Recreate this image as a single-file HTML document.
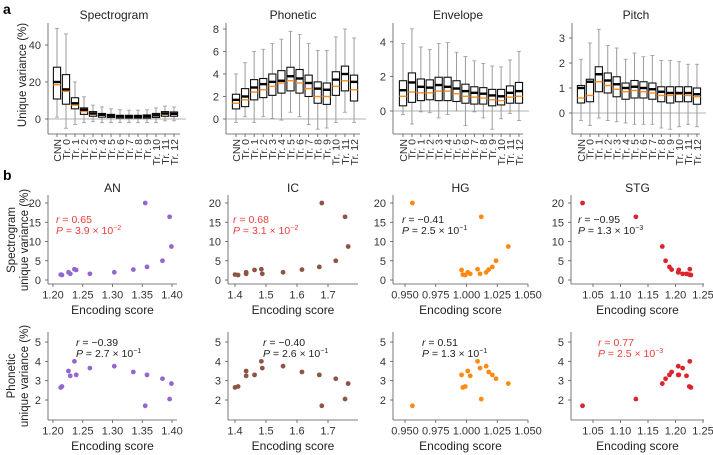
<!DOCTYPE html>
<html><head><meta charset="utf-8"><style>
body{margin:0;background:#fff}
svg{display:block;font-family:"Liberation Sans",sans-serif}
</style></head><body>
<svg id="fig" width="713" height="455" viewBox="0 0 713 455" xmlns="http://www.w3.org/2000/svg">
<text x="3" y="14" font-size="14" font-weight="bold">a</text>
<text x="3" y="180" font-size="14" font-weight="bold">b</text>
<text transform="translate(26,75) rotate(-90)" font-size="11.5" text-anchor="middle" fill="#222">Unique variance (%)</text>
<text transform="translate(15,240) rotate(-90)" font-size="11.5" text-anchor="middle" fill="#222">Spectrogram</text>
<text transform="translate(28,240) rotate(-90)" font-size="11.5" text-anchor="middle" fill="#222">unique variance (%)</text>
<text transform="translate(15,376) rotate(-90)" font-size="11.5" text-anchor="middle" fill="#222">Phonetic</text>
<text transform="translate(28,376) rotate(-90)" font-size="11.5" text-anchor="middle" fill="#222">unique variance (%)</text>
</svg>
<script>
// ---- Box plot data (a) ----
const layers = ["CNN","Tr. 0","Tr. 1","Tr. 2","Tr. 3","Tr. 4","Tr. 5","Tr. 6","Tr. 7","Tr. 8","Tr. 9","Tr. 10","Tr. 11","Tr. 12"];
const specQ3 = [28,24,11.5,6,4,3,2.5,2,2,2,2.2,3,4,3.8];
const specQ1 = [10.8,8,5.5,2.5,1.5,1,0.8,0.5,0.5,0.5,0.5,0.8,1.5,1.5];
const specMed = [20,16,8.5,5,3,2.3,1.8,1.5,1.4,1.4,1.5,2,3,2.8];
const specMean = [18.5,15,7.5,4,2.5,2,1.5,1.3,1.3,1.3,1.3,1.8,2.5,2.6];
const specHi = [49,46,20,12,7.5,6.5,5.5,5,4.8,4.8,5,6,7,6.5];
const specLo = [1,-5,-3,-2,-1.5,-2,-2,-2,-2,-2,-2,-2,-1,-1];
const phonQ3 = [2.2,2.7,3.5,3.6,4.0,4.3,4.6,4.4,3.9,3.3,3.2,4.2,4.7,3.9];
const phonQ1 = [0.9,1.1,1.7,1.9,2.1,2.3,2.5,2.3,2.0,1.4,1.3,2.1,2.5,1.6];
const phonMed = [1.7,2.0,2.8,3.1,3.3,3.4,3.8,3.6,3.2,2.7,2.6,3.5,4.0,3.3];
const phonMean = [1.4,1.7,2.4,2.6,2.9,3.2,3.4,3.2,2.7,2.0,2.0,2.9,3.4,2.6];
const phonHi = [4,5,6,6.2,6.7,7.1,7.8,7.5,6.7,6.1,6.1,7.3,8.0,7.2];
const phonLo = [-0.3,0.2,-0.3,0.2,0.05,-0.1,0.6,0.2,-0.5,-0.9,-0.8,-0.3,0.6,-0.3];
const envQ3 = [1.75,2.2,1.85,1.8,1.95,1.95,1.75,1.55,1.4,1.35,1.25,1.25,1.45,1.65];
const envQ1 = [0.3,0.5,0.6,0.65,0.6,0.6,0.55,0.45,0.4,0.4,0.3,0.35,0.45,0.45];
const envMed = [1.2,1.65,1.4,1.35,1.5,1.4,1.3,1.15,1.05,1.0,0.9,0.85,1.05,1.15];
const envMean = [0.85,1.1,1.05,1.05,1.15,1.15,1.0,0.85,0.8,0.75,0.65,0.6,0.8,0.85];
const envHi = [3.9,4.75,3.7,3.55,3.9,3.95,3.4,3.15,2.9,2.75,2.6,2.55,2.95,3.45];
const envLo = [-0.2,-0.75,-0.05,-0.1,-0.4,-0.2,0,-0.85,-0.05,-0.4,-1.05,-0.45,-0.15,-0.55];
const pitQ3 = [1.1,1.35,1.85,1.6,1.45,1.2,1.3,1.25,1.2,1.05,1.05,1.05,1.05,1.0];
const pitQ1 = [0.4,0.45,0.85,0.8,0.65,0.55,0.6,0.6,0.55,0.45,0.4,0.45,0.45,0.35];
const pitMed = [1.0,1.25,1.55,1.3,1.15,1.0,1.05,1.0,0.95,0.85,0.8,0.8,0.8,0.75];
const pitMean = [0.6,0.7,1.25,1.1,0.95,0.85,0.9,0.85,0.8,0.7,0.7,0.75,0.7,0.65];
const pitHi = [2.15,2.8,3.35,2.7,2.6,2.15,2.4,2.25,2.3,2.1,2.1,2.05,1.95,1.95];
const pitLo = [-0.3,-0.5,-0.2,-0.3,-0.35,-0.4,-0.45,-0.45,-0.45,-0.6,-0.65,-0.55,-0.45,-0.55];
const specTicks = [0,20,40];
const phonTicks = [0,2,4,6,8];
const envTicks = [0,2,4];
const pitTicks = [0,1,2,3];

// ---- Scatter data (b) ----
const anX = [1.213,1.215,1.226,1.229,1.236,1.239,1.262,1.303,1.335,1.358,1.355,1.384,1.396,1.399];
const icX = [1.40,1.41,1.436,1.436,1.485,1.463,1.488,1.555,1.616,1.672,1.68,1.725,1.755,1.765];
const hgX = [0.997,0.999,1.001,1.003,1.009,0.996,1.011,1.016,1.018,1.021,0.956,1.024,1.012,1.034];
const stgX = [1.225,1.228,1.205,1.213,1.226,1.206,1.22,1.205,1.193,1.189,1.031,1.182,1.128,1.176];
const specUV = [1.4,1.3,2.0,1.6,2.8,2.6,1.6,2.0,2.7,3.4,20,5.0,16.4,8.7];
const phonUV = [2.65,2.7,3.5,3.25,4.0,3.3,3.65,3.75,3.45,3.3,1.7,3.1,2.05,2.85];
const stgPhonUV = [2.7,2.65,3.75,3.65,4.0,3.3,3.25,3.3,3.45,3.3,1.7,3.1,2.05,2.85];
const anTicks = [1.20,1.25,1.30,1.35,1.40];
const icTicks = [1.4,1.5,1.6,1.7];
const hgTicks = [0.950,0.975,1.000,1.025,1.050];
const stgTicks = [1.05,1.10,1.15,1.20,1.25];
const specYTicks = [0,5,10,15,20];
const phonYTicks = [2,3,4,5];

const NS = "http://www.w3.org/2000/svg";
const svg = document.getElementById("fig");
function mk(tag, attrs, parent){const e=document.createElementNS(NS,tag);for(const k in attrs)e.setAttribute(k,attrs[k]);(parent||svg).appendChild(e);return e;}

function boxPanel(cfg){
  const g = mk("g",{});
  
  
  const y = v => cfg.y0 - v*cfg.ppu;
  const x = i => cfg.x0 + i*cfg.step;
  const t = mk("text",{x:(cfg.axX+cfg.axR)/2,y:19,"font-size":12,"text-anchor":"middle",fill:"#222"},g);
  t.textContent = cfg.title;
  
  
  mk("line",{x1:cfg.axX,y1:23,x2:cfg.axX,y2:134,stroke:"#555","stroke-width":0.8},g);
  mk("line",{x1:cfg.axX,y1:134,x2:cfg.axR,y2:134,stroke:"#555","stroke-width":0.8},g);
  mk("line",{x1:cfg.axX,y1:y(0),x2:cfg.axR+6,y2:y(0),stroke:"#999","stroke-width":0.8},g);
  cfg.ticks.forEach(v=>{
    mk("line",{x1:cfg.axX-3,y1:y(v),x2:cfg.axX,y2:y(v),stroke:"#555","stroke-width":0.8},g);
    const tt = mk("text",{x:cfg.axX-7,y:y(v)+4,"font-size":11,"text-anchor":"end",fill:"#333"},g);
    tt.textContent = v;
    
    
  });
  layers.forEach((L,i)=>{
    const cx = x(i), w = 3.6;
    mk("line",{x1:cx,y1:y(cfg.hi[i]),x2:cx,y2:y(cfg.lo[i]),stroke:"#9a9a9a","stroke-width":1},g);
    mk("line",{x1:cx-2,y1:y(cfg.hi[i]),x2:cx+2,y2:y(cfg.hi[i]),stroke:"#9a9a9a","stroke-width":0.8},g);
    mk("line",{x1:cx-2,y1:y(cfg.lo[i]),x2:cx+2,y2:y(cfg.lo[i]),stroke:"#9a9a9a","stroke-width":0.8},g);
    const b = mk("rect",{x:cx-w,y:y(cfg.q3[i]),width:2*w,height:Math.max(0.5,y(cfg.q1[i])-y(cfg.q3[i])),fill:"#fff",stroke:"#111","stroke-width":1.1},g);
    
    
    mk("line",{x1:cx-w,y1:y(cfg.mean[i]),x2:cx+w,y2:y(cfg.mean[i]),stroke:"#ff8c1a","stroke-width":1.4},g);
    mk("line",{x1:cx-w,y1:y(cfg.med[i]),x2:cx+w,y2:y(cfg.med[i]),stroke:"#000","stroke-width":2.4},g);
    mk("line",{x1:cx,y1:134,x2:cx,y2:137,stroke:"#555","stroke-width":0.8},g);
    const lt = mk("text",{transform:`translate(${cx+3.8},139) rotate(-90)`,"font-size":10.5,"text-anchor":"end",fill:"#333"},g);
    lt.textContent = L;
    
    
  });
}
boxPanel({name:"spectrogram",title:"Spectrogram",axX:48,axR:180,x0:57,step:9,y0:119,ppu:1.85,ticks:specTicks,q3:specQ3,q1:specQ1,med:specMed,mean:specMean,hi:specHi,lo:specLo});
boxPanel({name:"phonetic",title:"Phonetic",axX:226,axR:360,x0:236,step:9.08,y0:119,ppu:11.25,ticks:phonTicks,q3:phonQ3,q1:phonQ1,med:phonMed,mean:phonMean,hi:phonHi,lo:phonLo});
boxPanel({name:"envelope",title:"Envelope",axX:393,axR:523,x0:403,step:8.92,y0:111,ppu:17.3,ticks:envTicks,q3:envQ3,q1:envQ1,med:envMed,mean:envMean,hi:envHi,lo:envLo});
boxPanel({name:"pitch",title:"Pitch",axX:572,axR:700,x0:581,step:8.92,y0:113,ppu:25,ticks:pitTicks,q3:pitQ3,q1:pitQ1,med:pitMed,mean:pitMean,hi:pitHi,lo:pitLo});

function scatter(cfg){
  const g = mk("g",{});
  
  
  const x = v => cfg.xa + (v-cfg.xv0)*(cfg.xb-cfg.xa)/(cfg.xv1-cfg.xv0);
  const y = v => cfg.y0 - (v-cfg.yv0)*cfg.ppu;
  if(cfg.title){
    const t = mk("text",{x:(cfg.axX+cfg.axR)/2,y:cfg.top-3,"font-size":12,"text-anchor":"middle",fill:"#222"},g);
    t.textContent = cfg.title;
    
    
  }
  mk("line",{x1:cfg.axX,y1:cfg.top,x2:cfg.axX,y2:cfg.bot,stroke:"#555","stroke-width":0.8},g);
  mk("line",{x1:cfg.axX,y1:cfg.bot,x2:cfg.axR,y2:cfg.bot,stroke:"#555","stroke-width":0.8},g);
  cfg.yt.forEach(v=>{
    mk("line",{x1:cfg.axX-3,y1:y(v),x2:cfg.axX,y2:y(v),stroke:"#555","stroke-width":0.8},g);
    const tt = mk("text",{x:cfg.axX-7,y:y(v)+4,"font-size":11,"text-anchor":"end",fill:"#333"},g);
    tt.textContent = v;
    
    
  });
  cfg.xt.forEach(v=>{
    mk("line",{x1:x(v),y1:cfg.bot,x2:x(v),y2:cfg.bot+3,stroke:"#555","stroke-width":0.8},g);
    const tt = mk("text",{x:x(v),y:cfg.bot+14.5,"font-size":11,"text-anchor":"middle",fill:"#333"},g);
    tt.textContent = v.toFixed(cfg.dec);
    
    
  });
  const xl = mk("text",{x:(cfg.axX+cfg.axR)/2,y:cfg.bot+30,"font-size":12,"text-anchor":"middle",fill:"#222"},g);
  xl.textContent = "Encoding score";
  
  
  cfg.xs.forEach((xv,i)=>{
    const c = mk("circle",{cx:x(xv),cy:y(cfg.ys[i]),r:2.4,fill:cfg.color},g);
    
    
  });
  const col = cfg.sig ? "#f03c3c" : "#222";
  const a1 = mk("text",{x:cfg.ax,y:cfg.ay,"font-size":10.5,fill:col},g);
  a1.innerHTML = `<tspan font-style="italic">r</tspan> = ${cfg.r}`;
  
  
  const a2 = mk("text",{x:cfg.ax,y:cfg.ay+11,"font-size":10.5,fill:col},g);
  a2.innerHTML = `<tspan font-style="italic">P</tspan> = ${cfg.p} × 10<tspan dy="-4" font-size="7">${cfg.e}</tspan>`;
  
  
}
const top1={top:195,bot:284,y0:280,yv0:0,ppu:3.85,yt:specYTicks,ay:223};
const bot1={top:332,bot:420,y0:400,yv0:2,ppu:19.33,yt:phonYTicks,ay:346};
scatter({...top1,name:"an-spectrogram",title:"AN",axX:48,axR:177,xa:53,xb:172,xv0:1.20,xv1:1.40,xt:anTicks,dec:2,xs:anX,ys:specUV,color:"#9467d0",ax:56,r:"0.65",p:"3.9",e:"−2",sig:true});
scatter({...top1,name:"ic-spectrogram",title:"IC",axX:228,axR:358,xa:235,xb:328,xv0:1.4,xv1:1.7,xt:icTicks,dec:1,xs:icX,ys:specUV,color:"#8c5544",ax:233,r:"0.68",p:"3.1",e:"−2",sig:true});
scatter({...top1,name:"hg-spectrogram",title:"HG",axX:393,axR:528,xa:405,xb:528,xv0:0.95,xv1:1.05,xt:hgTicks,dec:3,xs:hgX,ys:specUV,color:"#ff8a12",ax:402,r:"−0.41",p:"2.5",e:"−1",sig:false});
scatter({...top1,name:"stg-spectrogram",title:"STG",axX:571,axR:704,xa:593,xb:703,xv0:1.05,xv1:1.25,xt:stgTicks,dec:2,xs:stgX,ys:specUV,color:"#d9252b",ax:578,r:"−0.95",p:"1.3",e:"−3",sig:false});
scatter({...bot1,name:"an-phonetic",axX:48,axR:177,xa:53,xb:172,xv0:1.20,xv1:1.40,xt:anTicks,dec:2,xs:anX,ys:phonUV,color:"#9467d0",ax:76,r:"−0.39",p:"2.7",e:"−1",sig:false});
scatter({...bot1,name:"ic-phonetic",axX:228,axR:358,xa:235,xb:328,xv0:1.4,xv1:1.7,xt:icTicks,dec:1,xs:icX,ys:phonUV,color:"#8c5544",ax:263,r:"−0.40",p:"2.6",e:"−1",sig:false});
scatter({...bot1,name:"hg-phonetic",axX:393,axR:528,xa:405,xb:528,xv0:0.95,xv1:1.05,xt:hgTicks,dec:3,xs:hgX,ys:phonUV,color:"#ff8a12",ax:422,r:"0.51",p:"1.3",e:"−1",sig:false});
scatter({...bot1,name:"stg-phonetic",axX:571,axR:704,xa:593,xb:703,xv0:1.05,xv1:1.25,xt:stgTicks,dec:2,xs:stgX,ys:stgPhonUV,color:"#d9252b",ax:598,r:"0.77",p:"2.5",e:"−3",sig:true});
</script>
</body></html>
